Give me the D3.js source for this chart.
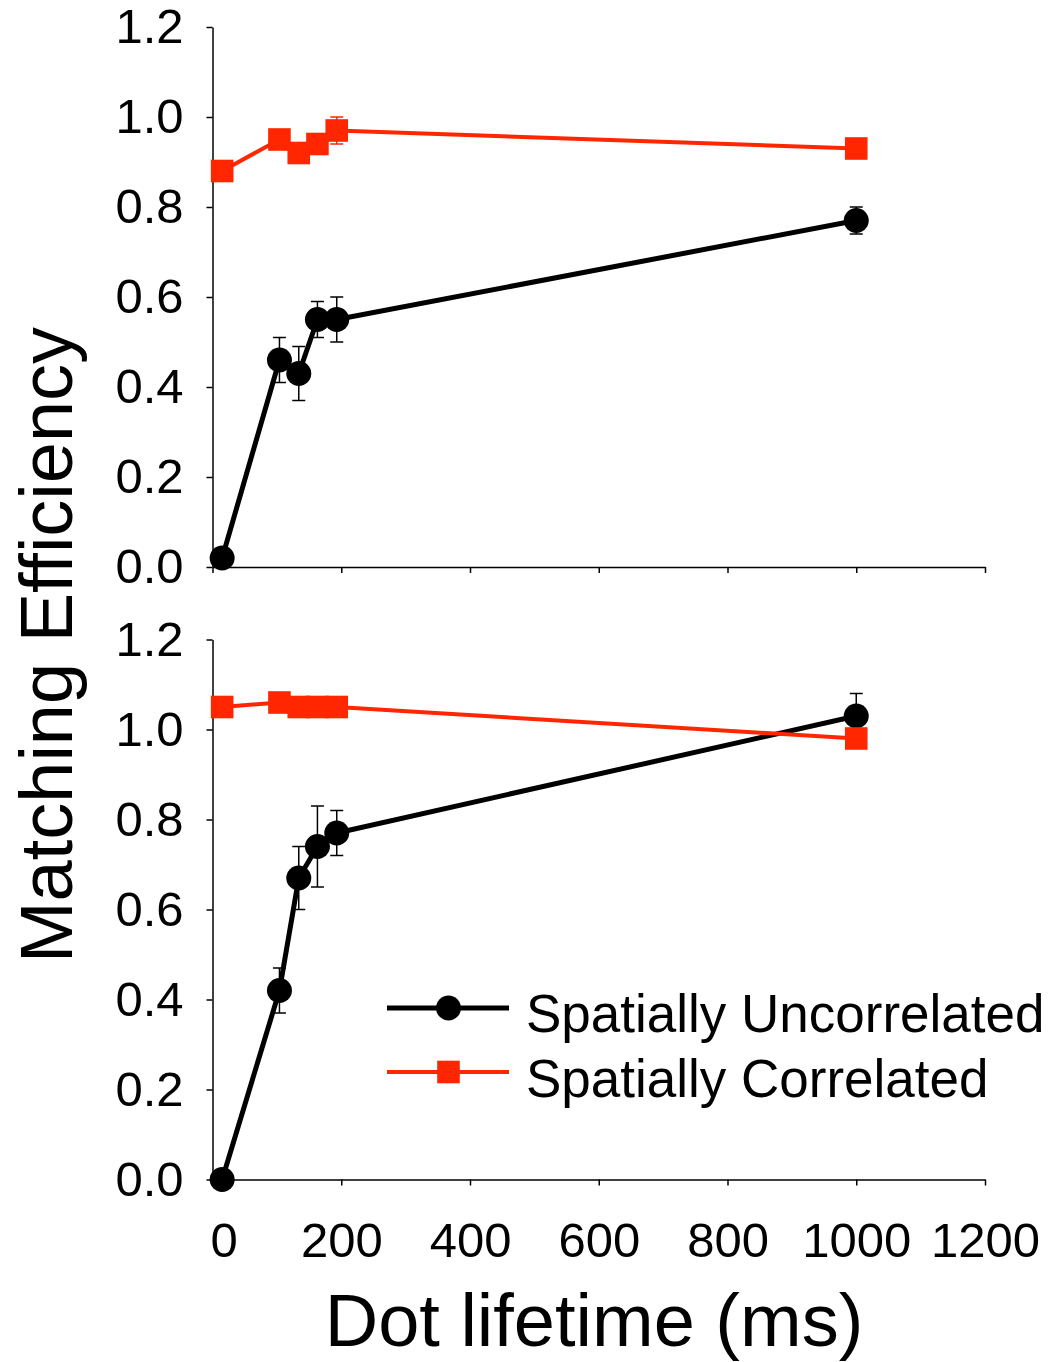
<!DOCTYPE html>
<html>
<head>
<meta charset="utf-8">
<script src="https://cdn.jsdelivr.net/npm/d3@7"></script>
<style>
  html, body { margin: 0; padding: 0; background: #fff; }
  svg { display: block; }
  text { font-family: "Liberation Sans", Arial, sans-serif; fill: #000; }
</style>
</head>
<body>
<svg id="chart" width="1057" height="1362"></svg>
<script>
// ---- data ----
const lifetimes = [15, 104, 134, 163, 193, 1000];           // Dot lifetime (ms)
const seriesNames = ["Spatially Uncorrelated", "Spatially Correlated"];

// Top panel
const topUncorr    = [0.02, 0.46, 0.43, 0.55, 0.55, 0.77];
const topUncorrErr = [0.01, 0.05, 0.06, 0.04, 0.05, 0.03];
const topCorr      = [0.88, 0.95, 0.92, 0.94, 0.97, 0.93];
const topCorrErr   = [0.01, 0.01, 0.01, 0.01, 0.03, 0.01];

// Bottom panel
const botUncorr    = [0.00, 0.42, 0.67, 0.74, 0.77, 1.03];
const botUncorrErr = [0.01, 0.05, 0.07, 0.09, 0.05, 0.05];
const botCorr      = [1.05, 1.06, 1.05, 1.05, 1.05, 0.98];
const botCorrErr   = [0.01, 0.01, 0.01, 0.01, 0.01, 0.01];

const xTicks = [0, 200, 400, 600, 800, 1000, 1200];
const yTicks = [0, 0.2, 0.4, 0.6, 0.8, 1.0, 1.2];

const xLabel = "Dot lifetime (ms)";
const yLabel = "Matching Efficiency";

// ---- styles ----
const BLACK = "#000000";
const RED = "#ff2600";
const TICK_FONT = 49;
const TITLE_FONT = 74;
const LEGEND_FONT = 53;

const svg = d3.select("#chart");

const x = d3.scaleLinear().domain([0, 1200]).range([212.5, 985]);
const panels = [
  { y: d3.scaleLinear().domain([0, 1.2]).range([567, 27]),
    uncorr: topUncorr, uncorrErr: topUncorrErr, corr: topCorr, corrErr: topCorrErr, xLabels: false },
  { y: d3.scaleLinear().domain([0, 1.2]).range([1179.5, 639.5]),
    uncorr: botUncorr, uncorrErr: botUncorrErr, corr: botCorr, corrErr: botCorrErr, xLabels: true }
];

function styleAxis(g) {
  g.select(".domain").attr("stroke", BLACK).attr("stroke-width", 1.5);
  g.selectAll(".tick line").attr("stroke", BLACK).attr("stroke-width", 1.5);
  g.selectAll(".tick text").style("font-size", TICK_FONT + "px").attr("fill", BLACK);
}

panels.forEach(p => {
  const y = p.y;
  // Y axis
  const gy = svg.append("g")
    .attr("transform", `translate(${x(0)},0)`)
    .call(d3.axisLeft(y).tickValues(yTicks).tickFormat(d3.format(".1f"))
      .tickSize(6).tickSizeOuter(0).tickPadding(23));
  styleAxis(gy);

  // X axis
  const gx = svg.append("g")
    .attr("transform", `translate(0,${y(0)})`)
    .call(d3.axisBottom(x).tickValues(xTicks).tickFormat(p.xLabels ? d3.format("d") : () => "")
      .tickSize(6).tickSizeOuter(0).tickPadding(37));
  styleAxis(gx);
  if (p.xLabels) {
    gx.selectAll(".tick text").filter(d => d === 0).attr("dx", 11);
  }

  const series = [
    { vals: p.uncorr, err: p.uncorrErr, color: BLACK, width: 5, marker: "circle" },
    { vals: p.corr, err: p.corrErr, color: RED, width: 4, marker: "square" }
  ];

  series.forEach(s => {
    const g = svg.append("g");
    const pts = lifetimes.map((t, i) => ({ t, v: s.vals[i], e: s.err[i] }));
    // error bars
    const eb = g.selectAll(".eb").data(pts).enter().append("g").attr("class", "eb");
    eb.append("line")
      .attr("x1", d => x(d.t)).attr("x2", d => x(d.t))
      .attr("y1", d => y(d.v - d.e)).attr("y2", d => y(d.v + d.e))
      .attr("stroke", s.color).attr("stroke-width", 1.5);
    [1, -1].forEach(sign => {
      eb.append("line")
        .attr("x1", d => x(d.t) - 6.5).attr("x2", d => x(d.t) + 6.5)
        .attr("y1", d => y(d.v + sign * d.e)).attr("y2", d => y(d.v + sign * d.e))
        .attr("stroke", s.color).attr("stroke-width", 1.5);
    });
    // line
    g.append("path").datum(pts)
      .attr("fill", "none").attr("stroke", s.color).attr("stroke-width", s.width)
      .attr("stroke-linejoin", "round")
      .attr("d", d3.line().x(d => x(d.t)).y(d => y(d.v)));
    // markers
    if (s.marker === "circle") {
      g.selectAll(".m").data(pts).enter().append("circle")
        .attr("cx", d => x(d.t)).attr("cy", d => y(d.v)).attr("r", 12.5)
        .attr("fill", s.color);
    } else {
      g.selectAll(".m").data(pts).enter().append("rect")
        .attr("x", d => x(d.t) - 11.3).attr("y", d => y(d.v) - 11.3)
        .attr("width", 22.6).attr("height", 22.6)
        .attr("fill", s.color);
    }
  });
});

// Axis titles
svg.append("text")
  .attr("transform", "translate(72,645) rotate(-90)")
  .attr("text-anchor", "middle")
  .style("font-size", TITLE_FONT + "px")
  .text(yLabel);

svg.append("text")
  .attr("x", 594).attr("y", 1346)
  .attr("text-anchor", "middle")
  .style("font-size", TITLE_FONT + "px")
  .text(xLabel);

// Legend
const legend = svg.append("g");
const legendItems = [
  { name: seriesNames[0], color: BLACK, width: 5, marker: "circle", y: 1008, ty: 1032 },
  { name: seriesNames[1], color: RED, width: 4, marker: "square", y: 1072, ty: 1097 }
];
legendItems.forEach(it => {
  legend.append("line").attr("x1", 387).attr("x2", 509).attr("y1", it.y).attr("y2", it.y)
    .attr("stroke", it.color).attr("stroke-width", it.width);
  if (it.marker === "circle") {
    legend.append("circle").attr("cx", 448.5).attr("cy", it.y).attr("r", 12.5).attr("fill", it.color);
  } else {
    legend.append("rect").attr("x", 448.5 - 11.3).attr("y", it.y - 11.3)
      .attr("width", 22.6).attr("height", 22.6).attr("fill", it.color);
  }
  legend.append("text").attr("x", 526).attr("y", it.ty)
    .style("font-size", LEGEND_FONT + "px").text(it.name);
});
</script>
</body>
</html>
